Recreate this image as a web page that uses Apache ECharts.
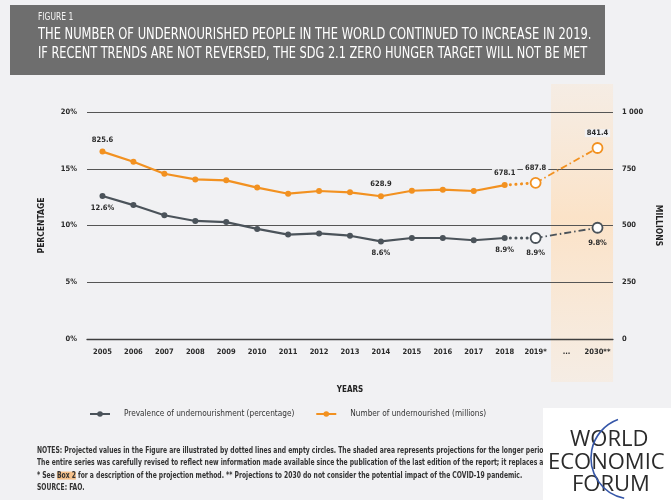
<!DOCTYPE html>
<html><head><meta charset="utf-8">
<script src="https://cdn.jsdelivr.net/npm/echarts@6/dist/echarts.min.js"></script>
<style>html,body{margin:0;padding:0;background:#f1f1f3}#c{width:671px;height:500px}</style>
</head><body><div id="c"></div>
<script>
// ---- data ----
const categories = ['2005','2006','2007','2008','2009','2010','2011','2012','2013','2014','2015','2016','2017','2018','2019*','...','2030**'];
const prevalence = [12.6, 11.8, 10.9, 10.4, 10.3, 9.7, 9.2, 9.3, 9.1, 8.6, 8.9, 8.9, 8.7, 8.9, 8.9, null, 9.8];
const undernourished = [825.6, 781, 728, 703, 699, 667, 640, 652, 646, 628.9, 653, 658, 652, 678.1, 687.8, null, 841.4];
const leftTickLabels = {0:'0%',5:'5%',10:'10%',15:'15%',20:'20%'};
const rightTickLabels = {0:'0',250:'250',500:'500',750:'750',1000:'1 000'};
const labeledIdx = [0, 9, 13, 14, 16];
const lastObserved = 13, firstProj = 14, lastProj = 16;
const nameP = 'Prevalence of undernourishment (percentage)';
const nameN = 'Number of undernourished (millions)';

const F = "'Liberation Sans Narrow','DejaVu Sans Condensed',sans-serif";
const BG = '#f1f1f3';
const GREY = '#4b535a', ORANGE = '#f29120';

function part(arr, from, to, withLabels, hollow, color) {
  return arr.map((v, i) => {
    if (i < from || i > to) return null;
    if (v === null) return null;
    const item = { value: v };
    if (withLabels && labeledIdx.includes(i)) item.label = { show: true };
    if (hollow && (i === firstProj || i === lastProj)) {
      item.symbol = 'circle'; item.symbolSize = 10;
      item.itemStyle = { color: '#ffffff', borderColor: color, borderWidth: 1.8 };
    }
    return item;
  });
}
function labelCfg(pos, fmt, bg) {
  return { show: false, position: pos, distance: 5, fontFamily: F, fontSize: 7.5, fontWeight: 'bold',
    color: '#2a2a2a', formatter: fmt, backgroundColor: bg ? BG : 'transparent', padding: bg ? [0, 2] : 0 };
}
const fmtP = p => p.value.toFixed(1) + '%';
const fmtN = p => p.value.toFixed(1);

function buildSeries(name, arr, color, yIdx, pos, fmt, bg) {
  return [
    { name: name, type: 'line', yAxisIndex: yIdx, data: part(arr, 0, lastObserved, true, false),
      symbol: 'circle', symbolSize: 6, itemStyle: { color: color }, lineStyle: { color: color, width: 2.2 },
      label: labelCfg(pos, fmt, bg), z: 3 },
    { name: name + ' dotted', type: 'line', yAxisIndex: yIdx, data: part(arr, lastObserved, firstProj, false, false),
      showSymbol: false, lineStyle: { color: color, width: 3, type: [0.1, 5.5], cap: 'round' }, z: 2 },
    { name: name + ' proj', type: 'line', yAxisIndex: yIdx, data: part(arr, firstProj, lastProj, true, true, color),
      connectNulls: true, symbol: 'circle', symbolSize: 10, itemStyle: { color: '#fff', borderColor: color },
      lineStyle: { color: color, width: 1.8, type: [7, 3, 1.5, 3] }, label: labelCfg(pos, fmt, bg), z: 4 }
  ];
}

const chart = echarts.init(document.getElementById('c'), null, { renderer: 'canvas' });
chart.setOption({
  backgroundColor: BG,
  animation: false,
  grid: { left: 87, right: 55, top: 112, bottom: 161 },
  legend: {
    data: [nameP, nameN], left: 84, top: 405, itemWidth: 20, itemHeight: 7, itemGap: 21,
    textStyle: { fontFamily: F, fontSize: 8.2, color: '#333', padding: [0, 0, 0, 9] }
  },
  xAxis: {
    type: 'category', data: categories, boundaryGap: true,
    name: 'YEARS', nameLocation: 'middle', nameGap: 47,
    nameTextStyle: { fontFamily: F, fontSize: 8, fontWeight: 'bold', color: '#222' },
    axisLine: { show: true, lineStyle: { color: '#3e3e3e', width: 1.3 } },
    axisTick: { show: false },
    axisLabel: { margin: 9, fontFamily: F, fontSize: 7.5, fontWeight: 'bold', color: '#2a2a2a', interval: 0 }
  },
  yAxis: [
    { type: 'value', min: 0, max: 20, interval: 5,
      name: 'PERCENTAGE', nameLocation: 'middle', nameGap: 41, nameRotate: 90,
      nameTextStyle: { fontFamily: F, fontSize: 8.5, fontWeight: 'bold', color: '#222' },
      axisLine: { show: false }, axisTick: { show: false },
      splitLine: { lineStyle: { color: '#555', width: 1.1 } },
      axisLabel: { margin: 10, fontFamily: F, fontSize: 7.5, fontWeight: 'bold', color: '#2a2a2a',
        formatter: v => leftTickLabels[v] } },
    { type: 'value', min: 0, max: 1000, interval: 250,
      name: 'MILLIONS', nameLocation: 'middle', nameGap: 32, nameRotate: -90,
      nameTextStyle: { fontFamily: F, fontSize: 8.5, fontWeight: 'bold', color: '#222' },
      axisLine: { show: false }, axisTick: { show: false }, splitLine: { show: false },
      axisLabel: { margin: 9, fontFamily: F, fontSize: 7.5, fontWeight: 'bold', color: '#2a2a2a',
        formatter: v => rightTickLabels[v] } }
  ],
  series: [
    ...buildSeries(nameP, prevalence, GREY, 0, 'bottom', fmtP, false),
    ...buildSeries(nameN, undernourished, ORANGE, 1, 'top', fmtN, true)
  ]
});

// projection shading band (from the '...' category to the end of the axis)
const gridW = 671 - 87 - 55;
const band = gridW / categories.length;
const xStart = chart.convertToPixel({ xAxisIndex: 0 }, '...') - band / 2;
const xEnd = chart.convertToPixel({ xAxisIndex: 0 }, '2030**') + band / 2;

const notes = [
  'NOTES: Projected values in the Figure are illustrated by dotted lines and empty circles. The shaded area represents projections for the longer period from 2019 to 2030.',
  'The entire series was carefully revised to reflect new information made available since the publication of the last edition of the report; it replaces all series published previously.',
  '* See {h|Box 2} for a description of the projection method. ** Projections to 2030 do not consider the potential impact of the COVID-19 pandemic.',
  'SOURCE: FAO.'
];
const noteEls = notes.map((t, i) => ({
  type: 'text', x: 37, y: 447 + i * 12.3, scaleX: 0.81, z: 5,
  style: { text: t, fontFamily: F, fontSize: 8.3, fontWeight: 'bold', fill: '#333',
    rich: { h: { backgroundColor: '#f5c08a', fontFamily: F, fontSize: 8.3, fontWeight: 'bold', fill: '#333' } } }
}));
const LOGO_F = "'Open Sans','DejaVu Sans',sans-serif";

chart.setOption({
  graphic: [
    { type: 'rect', z: -10, shape: { x: xStart, y: 84, width: xEnd - xStart, height: 298 },
      style: { fill: new echarts.graphic.LinearGradient(0, 0, 0, 1, [
        { offset: 0, color: 'rgba(253,228,200,0.35)' },
        { offset: 0.45, color: 'rgba(253,224,192,0.85)' },
        { offset: 1, color: 'rgba(253,228,200,0.35)' }]) } },
    { type: 'rect', z: 10, shape: { x: 10, y: 5, width: 595, height: 70 }, style: { fill: '#6e6e6e' } },
    { type: 'text', z: 11, x: 38, y: 12, scaleX: 0.8, style: { text: 'FIGURE 1', fontFamily: F, fontSize: 10.5, fill: '#f4f4f4' } },
    { type: 'text', z: 11, x: 38, y: 26.5, scaleX: 0.785, style: { text: 'THE NUMBER OF UNDERNOURISHED PEOPLE IN THE WORLD CONTINUED TO INCREASE IN 2019.', fontFamily: F, fontSize: 16.3, fill: '#ffffff' } },
    { type: 'text', z: 11, x: 38, y: 45.5, scaleX: 0.775, style: { text: 'IF RECENT TRENDS ARE NOT REVERSED, THE SDG 2.1 ZERO HUNGER TARGET WILL NOT BE MET', fontFamily: F, fontSize: 16.3, fill: '#ffffff' } },
    ...noteEls,
    { type: 'rect', z: 20, shape: { x: 543, y: 408, width: 128, height: 92 }, style: { fill: '#ffffff' } },
    { type: 'text', z: 21, x: 570, y: 429, style: { text: 'WORLD', fontFamily: LOGO_F, fontSize: 22, fill: '#2b2b2b', letterSpacing: 4 } },
    { type: 'text', z: 21, x: 548, y: 452, style: { text: 'ECONOMIC', fontFamily: LOGO_F, fontSize: 22, fill: '#2b2b2b', letterSpacing: 3 } },
    { type: 'text', z: 21, x: 572, y: 474, style: { text: 'FORUM', fontFamily: LOGO_F, fontSize: 22, fill: '#2b2b2b', letterSpacing: 4 } },
    { type: 'arc', z: 22, shape: { cx: 632, cy: 458, r: 41, startAngle: 101 * Math.PI / 180, endAngle: 250 * Math.PI / 180, clockwise: true },
      style: { stroke: '#3556a8', lineWidth: 1.6, fill: null } }
  ]
});
</script></body></html>
